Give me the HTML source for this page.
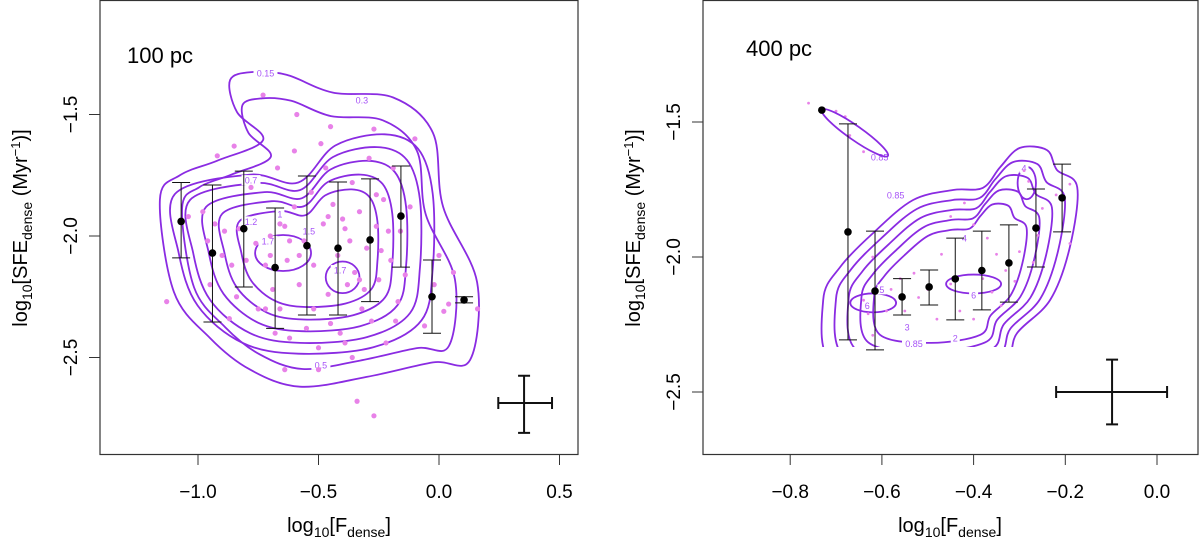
<!DOCTYPE html>
<html><head><meta charset="utf-8"><style>
body{margin:0;background:#fff;}
svg{display:block;font-family:"Liberation Sans",sans-serif;}
</style></head><body>
<svg id="chart" width="1200" height="544" viewBox="0 0 1200 544" xmlns="http://www.w3.org/2000/svg">
<defs>
<clipPath id="clipL"><rect x="100" y="0" width="478" height="454"/></clipPath>
<clipPath id="clipR"><rect x="703" y="0" width="495" height="347"/></clipPath>
</defs>
<rect x="100" y="0.5" width="478" height="454" fill="none" stroke="#333" stroke-width="1.2"/>
<rect x="703" y="0.5" width="495" height="454" fill="none" stroke="#333" stroke-width="1.2"/>
<text x="127" y="63" font-size="22">100 pc</text>
<text x="746" y="56" font-size="22">400 pc</text>
<text x="339" y="532" font-size="20" text-anchor="middle">log<tspan font-size="14" dy="5">10</tspan><tspan dy="-5">[F</tspan><tspan font-size="14" dy="5">dense</tspan><tspan dy="-5">]</tspan></text>
<text x="950" y="532" font-size="20" text-anchor="middle">log<tspan font-size="14" dy="5">10</tspan><tspan dy="-5">[F</tspan><tspan font-size="14" dy="5">dense</tspan><tspan dy="-5">]</tspan></text>
<text transform="translate(27,228) rotate(-90)" font-size="20" text-anchor="middle">log<tspan font-size="14" dy="5">10</tspan><tspan dy="-5">[SFE</tspan><tspan font-size="14" dy="5">dense</tspan><tspan dy="-5"> (Myr</tspan><tspan font-size="13" dy="-7">−1</tspan><tspan dy="7">)]</tspan></text>
<text transform="translate(640,228) rotate(-90)" font-size="20" text-anchor="middle">log<tspan font-size="14" dy="5">10</tspan><tspan dy="-5">[SFE</tspan><tspan font-size="14" dy="5">dense</tspan><tspan dy="-5"> (Myr</tspan><tspan font-size="13" dy="-7">−1</tspan><tspan dy="7">)]</tspan></text>
<g id="gL" clip-path="url(#clipL)"></g>
<g id="gR" clip-path="url(#clipR)"></g>
<g id="gLp"></g><g id="gRp"></g><g id="axes"></g>
</svg>
<script>
// ---- data: left panel (100 pc) ----
const xTicksL = [-1.0, -0.5, 0.0, 0.5];
const xTickLabelsL = ["−1.0", "−0.5", "0.0", "0.5"];
const yTicksL = [-1.5, -2.0, -2.5];
const yTickLabelsL = ["−1.5", "−2.0", "−2.5"];
const binXL = [-1.07, -0.94, -0.81, -0.68, -0.548, -0.419, -0.286, -0.158, -0.029, 0.104];
const binYL = [-1.94, -2.07, -1.97, -2.13, -2.04, -2.05, -2.016, -1.918, -2.25, -2.263];
const binHiL = [-1.78, -1.79, -1.733, -1.885, -1.753, -1.778, -1.765, -1.712, -2.099, -2.25];
const binLoL = [-2.09, -2.354, -2.21, -2.38, -2.325, -2.325, -2.27, -2.128, -2.40, -2.275];
const repL = [0.353, -2.687, 0.246, 0.469, -2.575, -2.81];
const outerL = [[-0.867,-1.358],[-0.772,-1.325],[-0.631,-1.337],[-0.44,-1.41],[-0.19,-1.43],[-0.025,-1.576],[0.017,-1.88],[0.158,-2.19],[0.129,-2.51],[-0.025,-2.52],[-0.30,-2.58],[-0.577,-2.62],[-0.784,-2.55],[-0.95,-2.42],[-1.10,-2.23],[-1.158,-1.85],[-1.075,-1.75],[-0.92,-1.69],[-0.73,-1.605],[-0.838,-1.49]];
const outerScalesL = [1, 0.86];
const outerCenterL = [-0.5, -2.1];
const innerL = [[-1.033,-1.852],[-0.755,-1.782],[-0.577,-1.811],[-0.44,-1.675],[-0.257,-1.634],[-0.133,-1.687],[-0.079,-1.852],[-0.079,-2.128],[-0.12,-2.317],[-0.299,-2.416],[-0.577,-2.44],[-0.784,-2.40],[-0.95,-2.263],[-1.02,-2.07]];
const innerScalesL = [1.12, 1.0, 0.87, 0.74, 0.6];
const innerCenterL = [-0.52, -2.07];
const blobsL = [[-0.647,-2.07,0.116,0.074],[-0.40,-2.17,0.07,0.065]];
const labelsL = [["0.15",-0.72,-1.33],["0.3",-0.32,-1.44],["0.7",-0.78,-1.77],["1",-0.66,-1.91],["1.2",-0.78,-1.94],["1.5",-0.54,-1.98],["1.7",-0.71,-2.02],["1.7",-0.41,-2.14],["0.5",-0.49,-2.53]];
const dotsL = [[-1.13,-2.27],[-1.04,-1.92],[-0.98,-1.9],[-0.96,-2.02],[-0.92,-1.67],[-0.95,-2.2],[-0.9,-2.08],[-0.87,-2.34],[-0.85,-1.63],[-0.83,-1.97],[-0.84,-2.25],[-0.8,-2.1],[-0.78,-1.8],[-0.76,-2.03],[-0.75,-2.3],[-0.73,-1.42],[-0.72,-2.12],[-0.7,-2.0],[-0.69,-2.22],[-0.67,-1.72],[-0.66,-2.3],[-0.64,-1.96],[-0.63,-2.1],[-0.62,-2.42],[-0.6,-1.88],[-0.59,-1.5],[-0.58,-2.2],[-0.56,-2.02],[-0.55,-2.38],[-0.53,-1.82],[-0.52,-2.12],[-0.5,-2.46],[-0.49,-1.62],[-0.48,-1.95],[-0.46,-2.24],[-0.45,-1.55],[-0.44,-1.87],[-0.42,-2.08],[-0.41,-2.4],[-0.39,-1.97],[-0.38,-2.2],[-0.36,-1.78],[-0.35,-2.15],[-0.34,-2.68],[-0.33,-1.9],[-0.32,-2.3],[-0.3,-2.05],[-0.29,-1.68],[-0.28,-2.35],[-0.27,-2.74],[-0.26,-1.96],[-0.25,-2.18],[-0.23,-1.85],[-0.22,-2.44],[-0.2,-2.1],[-0.19,-1.72],[-0.17,-2.27],[-0.16,-1.98],[-0.14,-2.16],[-0.12,-1.88],[-0.1,-1.6],[-0.06,-2.37],[-0.02,-2.2],[0.0,-2.08],[0.02,-2.31],[0.04,-2.28],[0.06,-2.15],[0.16,-2.3],[-0.5,-2.55],[-0.64,-2.55],[-0.93,-1.95],[-0.47,-1.72],[-0.27,-1.56],[-0.36,-2.5],[-0.6,-1.65],[-0.66,-1.95],[-0.62,-2.02],[-0.58,-2.08],[-0.7,-2.08],[-0.46,-1.92],[-0.4,-1.93],[-0.37,-2.02],[-0.33,-2.18],[-0.31,-2.22],[-0.24,-2.06],[-0.21,-1.98],[-0.26,-1.83],[-0.86,-2.12],[-0.89,-1.98],[-0.72,-2.3],[-0.68,-2.4],[-0.52,-2.3],[-0.45,-2.36],[-0.39,-2.44],[-0.18,-2.35]];

// ---- data: right panel (400 pc) ----
const xTicksR = [-0.8, -0.6, -0.4, -0.2, 0.0];
const xTickLabelsR = ["−0.8", "−0.6", "−0.4", "−0.2", "0.0"];
const yTicksR = [-1.5, -2.0, -2.5];
const yTickLabelsR = ["−1.5", "−2.0", "−2.5"];
const binXR = [-0.731, -0.674, -0.615, -0.556, -0.497, -0.44, -0.382, -0.323, -0.264, -0.207];
const binYR = [-1.456, -1.907, -2.126, -2.148, -2.111, -2.081, -2.05, -2.022, -1.893, -1.781];
const binHiR = [null, -1.507, -1.904, -2.08, -2.048, -1.93, -1.904, -1.881, -1.748, -1.656];
const binLoR = [null, -2.307, -2.344, -2.215, -2.178, -2.233, -2.196, -2.167, -2.037, -1.907];
const repR = [-0.098, -2.5, -0.22, 0.022, -2.38, -2.62];
const outerR = [[-0.707,-2.40],[-0.728,-2.159],[-0.691,-2.037],[-0.619,-1.911],[-0.532,-1.789],[-0.445,-1.752],[-0.38,-1.744],[-0.342,-1.667],[-0.299,-1.596],[-0.24,-1.604],[-0.218,-1.678],[-0.174,-1.741],[-0.19,-1.963],[-0.233,-2.159],[-0.305,-2.281],[-0.342,-2.40],[-0.52,-2.45]];
const ringScalesR = [1, 0.9, 0.8, 0.7, 0.6];
const ringCenterR = [-0.45, -2.12];
const blobsR = [[-0.619,-2.17,0.05,0.035],[-0.284,-1.726,0.02,0.06],[-0.4,-2.1,0.06,0.035]];
const islandR = [-0.659, -1.54, 0.088, 0.026, 35];
const labelsR = [["0.85",-0.605,-1.63],["0.85",-0.57,-1.77],["0.85",-0.53,-2.32],["4",-0.29,-1.67],["4",-0.42,-1.93],["5",-0.6,-2.12],["6",-0.632,-2.18],["6",-0.4,-2.14],["3",-0.545,-2.26],["2",-0.44,-2.3]];
const dotsR = [[-0.76,-1.43],[-0.7,-1.46],[-0.68,-1.48],[-0.67,-1.55],[-0.64,-1.61],[-0.62,-2.0],[-0.64,-2.16],[-0.63,-2.21],[-0.62,-2.29],[-0.59,-2.2],[-0.56,-2.08],[-0.53,-2.06],[-0.52,-2.15],[-0.5,-2.12],[-0.47,-1.99],[-0.45,-2.1],[-0.43,-2.2],[-0.4,-2.23],[-0.42,-1.8],[-0.4,-1.88],[-0.38,-2.08],[-0.36,-2.13],[-0.35,-1.99],[-0.34,-2.18],[-0.33,-2.05],[-0.31,-2.09],[-0.3,-1.98],[-0.29,-1.68],[-0.28,-1.72],[-0.27,-2.02],[-0.26,-1.92],[-0.25,-1.82],[-0.22,-1.77],[-0.19,-1.73],[-0.19,-1.95],[-0.45,-1.85],[-0.55,-2.2],[-0.58,-2.12],[-0.48,-2.23],[-0.37,-1.93]];

// ---- scales ----
const sxL = v => 439 + v * 241;
const syL = v => 236 - (v + 2) * 243;
const sxR = v => 1157 + v * 458.5;
const syR = v => 257 - (v + 2) * 270;
const NS = "http://www.w3.org/2000/svg";
function mk(tag, attrs, parent) {
  const e = document.createElementNS(NS, tag);
  for (const k in attrs) e.setAttribute(k, attrs[k]);
  parent.appendChild(e);
  return e;
}
function smooth(pts) {
  const n = pts.length;
  let d = "M" + pts[0][0].toFixed(1) + "," + pts[0][1].toFixed(1);
  for (let i = 0; i < n; i++) {
    const p0 = pts[(i - 1 + n) % n], p1 = pts[i], p2 = pts[(i + 1) % n], p3 = pts[(i + 2) % n];
    const c1 = [p1[0] + (p2[0] - p0[0]) / 6, p1[1] + (p2[1] - p0[1]) / 6];
    const c2 = [p2[0] - (p3[0] - p1[0]) / 6, p2[1] - (p3[1] - p1[1]) / 6];
    d += "C" + c1.map(v => v.toFixed(1)).join(",") + " " + c2.map(v => v.toFixed(1)).join(",") + " " + p2[0].toFixed(1) + "," + p2[1].toFixed(1);
  }
  return d + "Z";
}
const purple = "#8a2be2";
function rings(g, sx, sy, base, scales, center) {
  scales.forEach(s => {
    const pts = base.map(p => [sx(center[0] + (p[0] - center[0]) * s), sy(center[1] + (p[1] - center[1]) * s)]);
    const path = mk("path", {d: smooth(pts), fill: "none", stroke: purple, "stroke-width": 1.8}, g);
    
    
  });
}
function panel(g, gp, sx, sy, blobs, labels, dots, dotR, bx, by, bhi, blo, rep) {
  blobs.forEach(b => {
    const e = mk("ellipse", {cx: sx(b[0]), cy: sy(b[1]), rx: Math.abs(sx(b[2]) - sx(0)), ry: Math.abs(sy(b[3]) - sy(0)), fill: "none", stroke: purple, "stroke-width": 1.8}, g);
    
    
  });
  labels.forEach(l => {
    const w = l[0].length * 5 + 4;
    mk("rect", {x: sx(l[1]) - w / 2, y: sy(l[2]) - 5, width: w, height: 10, fill: "#fff"}, g);
    const t = mk("text", {x: sx(l[1]), y: sy(l[2]) + 3.5, "font-size": 9, fill: "#a855f7", "text-anchor": "middle"}, g);
    t.textContent = l[0];
    
    
  });
  dots.forEach(p => {
    const c = mk("circle", {cx: sx(p[0]), cy: sy(p[1]), r: dotR, fill: "#e882e8"}, g);
    
    
  });
  bx.forEach((x, i) => {
    const px = sx(x);
    if (bhi[i] !== null) {
      const eb = mk("path", {d: `M${px},${sy(bhi[i])}V${sy(blo[i])}M${px - 9},${sy(bhi[i])}h18M${px - 9},${sy(blo[i])}h18`, stroke: "#111", "stroke-width": 1, fill: "none"}, gp);
      
      
    }
    const c = mk("circle", {cx: px, cy: sy(by[i]), r: 3.8, fill: "#000"}, gp);
    
    
  });
  const cx = sx(rep[0]), cy = sy(rep[1]);
  const cr = mk("path", {d: `M${sx(rep[2])},${cy}H${sx(rep[3])}M${cx},${sy(rep[4])}V${sy(rep[5])}M${sx(rep[2])},${cy - 6}v12M${sx(rep[3])},${cy - 6}v12M${cx - 6},${sy(rep[4])}h12M${cx - 6},${sy(rep[5])}h12`, stroke: "#111", "stroke-width": 2, fill: "none"}, gp);
  
  
}
const gL = document.getElementById("gL"), gR = document.getElementById("gR");
const gLp = document.getElementById("gLp"), gRp = document.getElementById("gRp");
rings(gL, sxL, syL, outerL, outerScalesL, outerCenterL);
rings(gL, sxL, syL, innerL, innerScalesL, innerCenterL);
panel(gL, gLp, sxL, syL, blobsL, labelsL, dotsL, 2.6, binXL, binYL, binHiL, binLoL, repL);
rings(gR, sxR, syR, outerR, ringScalesR, ringCenterR);
panel(gR, gRp, sxR, syR, blobsR, labelsR, dotsR, 1.4, binXR, binYR, binHiR, binLoR, repR);
const icx = sxR(islandR[0]), icy = syR(islandR[1]);
const isl = mk("ellipse", {cx: icx, cy: icy, rx: islandR[2] * 458.5, ry: islandR[3] * 270, transform: `rotate(${islandR[4]} ${icx} ${icy})`, fill: "none", stroke: purple, "stroke-width": 1.8}, gR);



const ax = document.getElementById("axes");
function axes(xt, xl, yt, yl, sx, sy, left) {
  xt.forEach((v, i) => {
    const x = sx(v);
    const tk = mk("line", {x1: x, x2: x, y1: 454, y2: 465, stroke: "#333", "stroke-width": 1}, ax);
    
    
    const t = mk("text", {x: x, y: 498, "font-size": 19, "text-anchor": "middle"}, ax);
    t.textContent = xl[i];
    
    
  });
  yt.forEach((v, i) => {
    const y = sy(v);
    const tk = mk("line", {x1: left - 11, x2: left, y1: y, y2: y, stroke: "#333", "stroke-width": 1}, ax);
    
    
    const t = mk("text", {x: 0, y: 0, transform: `translate(${left - 23},${y}) rotate(-90)`, "font-size": 19, "text-anchor": "middle"}, ax);
    t.textContent = yl[i];
    
    
  });
}
axes(xTicksL, xTickLabelsL, yTicksL, yTickLabelsL, sxL, syL, 100);
axes(xTicksR, xTickLabelsR, yTicksR, yTickLabelsR, sxR, syR, 703);
</script>
</body></html>
